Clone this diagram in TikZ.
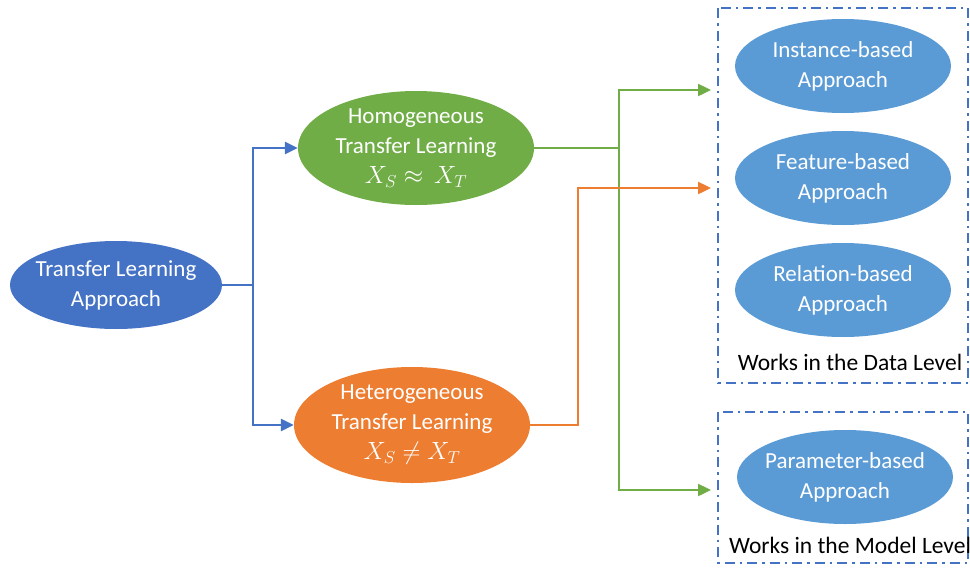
\documentclass[tikz,border=0pt]{standalone}
\usepackage{fontspec}
\setmainfont{Carlito}
\usetikzlibrary{arrows.meta,shapes.geometric}
\definecolor{tlblue}{HTML}{4472C4}
\definecolor{homgreen}{HTML}{70AD47}
\definecolor{hetorange}{HTML}{ED7D31}
\definecolor{appblue}{HTML}{5B9BD5}
\tikzset{
  % negative inner sep keeps each ellipse at its minimum size
  oval/.style={ellipse, draw=none, text=white, align=center, inner sep=-18pt,
    font=\fontsize{23}{30}\selectfont},
  link/.style={line width=2.4pt, -{Triangle[length=13pt,width=12pt]}},
  plain/.style={line width=2.4pt},
  levelbox/.style={draw=tlblue, line width=2.2pt,
    dash pattern=on 10pt off 5pt on 2.5pt off 5pt},
  boxlabel/.style={font=\fontsize{23.5}{28}\selectfont, text=black}
}
\begin{document}
\begin{tikzpicture}[x=1pt,y=-1pt]
\useasboundingbox (0,0) rectangle (970,568);

% level boxes
\draw[levelbox] (718,8) rectangle (968,383);
\draw[levelbox] (718,412) rectangle (968,563);
\node[boxlabel] (datalbl) at (850,362) {Works in the Data Level};
\node[boxlabel] (modellbl) at (850,545) {Works in the Model Level};

% main ellipses
\node[oval, fill=tlblue, minimum width=212pt, minimum height=88pt] (tl) at (116,285)
  {Transfer Learning\\Approach};
\node[oval, fill=homgreen, minimum width=236pt, minimum height=114pt] (hom) at (416,148)
  {Homogeneous\\Transfer Learning\\$X_S\approx\,X_T$};
\node[oval, fill=hetorange, minimum width=236pt, minimum height=116pt] (het) at (412,425)
  {Heterogeneous\\Transfer Learning\\$X_S\neq X_T$};

% approach ellipses
\node[oval, fill=appblue, minimum width=216pt, minimum height=94pt] (inst) at (843,66)
  {Instance-based\\Approach};
\node[oval, fill=appblue, minimum width=216pt, minimum height=94pt] (feat) at (843,178)
  {Feature-based\\Approach};
\node[oval, fill=appblue, minimum width=216pt, minimum height=94pt] (rel) at (843,290)
  {Relation-based\\Approach};
\node[oval, fill=appblue, minimum width=216pt, minimum height=94pt] (param) at (845,477)
  {Parameter-based\\Approach};

% arrow targets at the box edges
\coordinate (tgtA) at (711,90);
\coordinate (tgtB) at (711,188);
\coordinate (tgtC) at (711,490);

% blue connectors
\draw[plain, tlblue] (tl.east) -- (253,285);
\draw[link, tlblue] (253,285) |- (hom.west);
\draw[link, tlblue] (253,285) |- (het.west);

% green connectors
\draw[plain, homgreen] (hom.east) -- (619,148);
\draw[link, homgreen] (619,148) |- (tgtA);
\draw[link, homgreen] (619,148) |- (tgtC);

% orange connector
\draw[link, hetorange] (het.east) -- (578,425) |- (tgtB);
\end{tikzpicture}
\end{document}
